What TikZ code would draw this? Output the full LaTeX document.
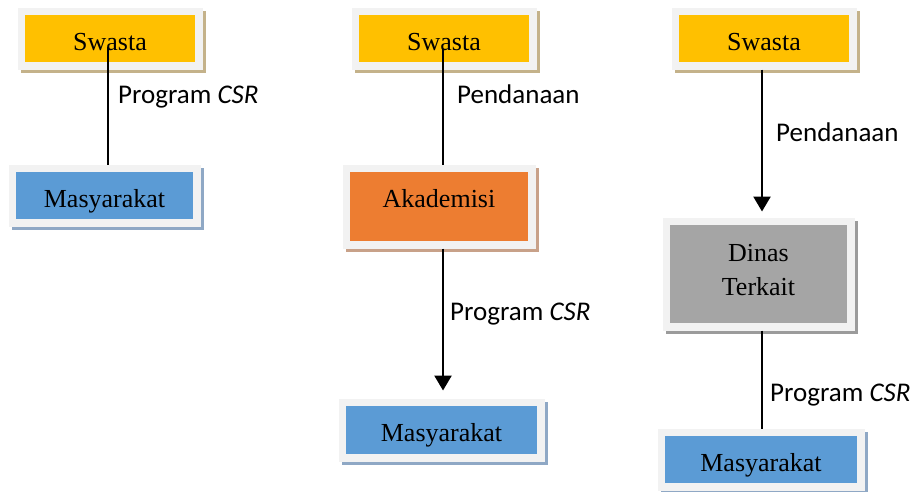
\documentclass[tikz,border=0pt]{standalone}
\usepackage{fontspec}
\setmainfont{Liberation Serif}
\newfontfamily\labelfont{Carlito}
\usetikzlibrary{arrows.meta}
\definecolor{rim}{HTML}{F2F2F2}
\definecolor{swastaC}{HTML}{FFC000}
\definecolor{swastaSh}{HTML}{C4B28A}
\definecolor{masyC}{HTML}{5B9BD5}
\definecolor{masySh}{HTML}{8FA8C5}
\definecolor{akaC}{HTML}{ED7D31}
\definecolor{akaSh}{HTML}{C8A189}
\definecolor{dinasC}{HTML}{A5A5A5}
\definecolor{dinasSh}{HTML}{9B9B9B}
\begin{document}
\begin{tikzpicture}[x=1pt,y=-1pt,
  box/.style={draw=rim, line width=7.5pt, inner sep=0pt, outer sep=3.75pt,
    font=\fontsize{26}{34}\selectfont, align=center},
  stdtext/.style={text height=23pt, text depth=0pt},
  shadowed/.style={preaction={draw=#1, fill=#1, line width=7.5pt,
    transform canvas={shift={(3pt,-3pt)}}}},
  conn/.style={line width=2.5pt, black},
  arr/.style={conn, -{Triangle[length=15pt,width=17pt]}},
  lbl/.style={font=\labelfont\fontsize{27}{30}\selectfont, anchor=base west, inner sep=0pt}
]
\useasboundingbox (0,0) rectangle (912,491);

% column 1
\node[box, stdtext, fill=swastaC, shadowed=swastaSh, minimum width=177.5pt, minimum height=54.5pt] (S1) at (110,38.5) {Swasta};
\node[box, stdtext, fill=masyC, shadowed=masySh, minimum width=184.5pt, minimum height=54.5pt] (M1) at (104.5,195.5) {Masyarakat};

% column 2
\node[box, stdtext, fill=swastaC, shadowed=swastaSh, minimum width=177.5pt, minimum height=54.5pt] (S2) at (444,38.5) {Swasta};
\node[box, fill=akaC, shadowed=akaSh, text height=18pt, text depth=17pt, minimum width=185.5pt, minimum height=76.5pt] (A) at (439,206.5) {Akademisi};
\node[box, stdtext, fill=masyC, shadowed=masySh, minimum width=198.5pt, minimum height=55.5pt] (M2) at (441.5,430) {Masyarakat};

% column 3
\node[box, stdtext, fill=swastaC, shadowed=swastaSh, minimum width=177.5pt, minimum height=54.5pt] (S3) at (764,38.5) {Swasta};
\node[box, fill=dinasC, shadowed=dinasSh, text depth=8pt, minimum width=184.5pt, minimum height=105.5pt] (D) at (758.5,274) {Dinas\\Terkait};
\node[box, stdtext, fill=masyC, shadowed=masySh, minimum width=199.5pt, minimum height=54.5pt] (M3) at (761,459.5) {Masyarakat};

% connectors
\coordinate (c1) at (108,47);
\coordinate (c2) at (443,49);
\coordinate (c3) at (762,70);
\draw[conn] (c1) -- (c1 |- M1.north);
\draw[conn] (c2) -- (c2 |- A.north);
\draw[arr, shorten >=8pt] (A.south -| c2) -- (M2.north -| c2);
\draw[arr, shorten >=6pt] (S3.south -| c3) -- (D.north -| c3);
\draw[conn] (D.south -| c3) -- (M3.north -| c3);

% labels
\node[lbl] (L1) at (118,103) {Program \textit{CSR}};
\node[lbl] (L2) at (457,103) {Pendanaan};
\node[lbl] (L3) at (450,320) {Program \textit{CSR}};
\node[lbl] (L4) at (776,141) {Pendanaan};
\node[lbl] (L5) at (770,401) {Program \textit{CSR}};
\end{tikzpicture}
\end{document}
